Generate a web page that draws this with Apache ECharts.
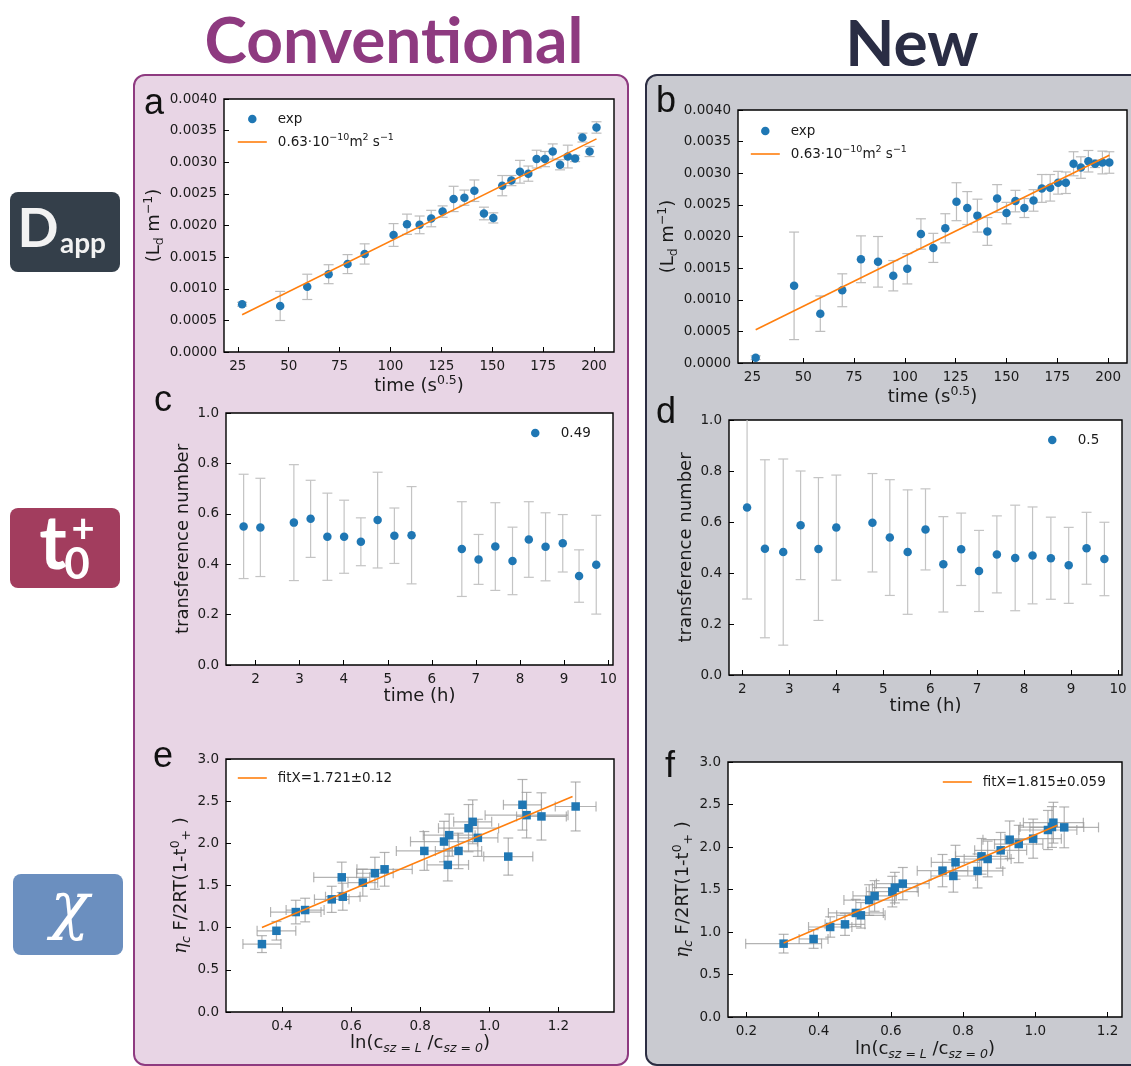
<!DOCTYPE html>
<html><head><meta charset="utf-8">
<script src="https://cdn.jsdelivr.net/npm/echarts@6/dist/echarts.min.js"></script>
<style>
html,body{margin:0;padding:0;background:#fff}
#wrap{position:relative;width:1131px;height:1066px;overflow:hidden}
.bg{position:absolute;box-sizing:border-box}
#c{position:absolute;left:0;top:0;width:1131px;height:1066px}
</style>
</head><body>
<div id="wrap">
<div class="bg" style="left:133px;top:74px;width:496px;height:992px;background:#e8d5e5;border:2px solid #8e3a80;border-radius:12px"></div>
<div class="bg" style="left:645px;top:74px;width:500px;height:992px;background:#c9cad0;border:2px solid #2b2d42;border-radius:12px"></div>
<div class="bg" style="left:10px;top:192px;width:110px;height:80px;background:#343f4a;border-radius:8px"></div>
<div class="bg" style="left:10px;top:508px;width:110px;height:80px;background:#a23d5e;border-radius:8px"></div>
<div class="bg" style="left:13px;top:874px;width:110px;height:81px;background:#6b8fbf;border-radius:8px"></div>
<div id="c"></div>
</div>
<script>
// ---------- data ----------
const aX = [27.1,45.8,59.1,69.6,78.9,87.3,101.5,108.1,114.3,120.0,125.6,131.0,136.3,141.2,145.9,150.5,154.9,159.4,163.6,167.7,171.8,175.9,179.7,183.3,187.1,190.7,194.3,197.8,201.2];
const aY = [0.000755,0.000728,0.00103,0.00123,0.00139,0.00155,0.00185,0.00202,0.00201,0.00211,0.00222,0.00242,0.00244,0.00255,0.00219,0.00212,0.00263,0.00271,0.00285,0.00282,0.00305,0.00305,0.00317,0.00296,0.00309,0.00306,0.00339,0.00317,0.00355];
const aErr = [0.00003,0.00023,0.0002,0.00015,0.00015,0.00016,0.00018,0.00016,0.00014,0.00013,0.00009,0.0002,0.00012,0.00017,0.0001,0.00008,0.00016,0.00008,0.00018,0.00012,0.00014,0.00012,0.00012,0.00008,0.00018,0.00005,0.00007,0.00008,0.00009];
const fitAX = [27.1,201.2];
const fitAY = [0.00059,0.00337];

const bX = [26.6,45.5,58.4,69.2,78.4,86.8,94.3,101.2,107.9,114.0,119.9,125.4,130.7,135.7,140.6,145.4,150.0,154.4,158.8,163.3,167.4,171.5,175.4,179.2,183.0,186.6,190.3,193.6,197.2,200.6];
const bY = [0.000084,0.00122,0.00078,0.00115,0.00164,0.0016,0.00138,0.00149,0.00204,0.00182,0.00213,0.00255,0.00245,0.00233,0.00208,0.0026,0.00237,0.00256,0.00245,0.00257,0.00276,0.00277,0.00285,0.00285,0.00315,0.00309,0.00319,0.00315,0.00317,0.00317];
const bErr = [0.00003,0.00085,0.00028,0.00026,0.00037,0.0004,0.00024,0.00024,0.00024,0.00023,0.00023,0.0003,0.00026,0.00026,0.00022,0.00022,0.00017,0.00017,0.00015,0.00017,0.00022,0.00021,0.00018,0.00017,0.00019,0.00017,0.00017,0.00006,0.00018,0.00017];
const fitBX = [26.6,200.6];
const fitBY = [0.000526,0.003284];

const cX = [1.73,2.11,2.87,3.25,3.63,4.01,4.39,4.77,5.15,5.54,6.68,7.06,7.44,7.83,8.20,8.58,8.97,9.34,9.73];
const cY = [0.55,0.546,0.565,0.58,0.509,0.509,0.489,0.575,0.513,0.515,0.46,0.419,0.47,0.413,0.498,0.469,0.483,0.353,0.398];
const cErr = [0.207,0.195,0.23,0.153,0.173,0.145,0.095,0.19,0.11,0.193,0.188,0.099,0.174,0.134,0.15,0.135,0.114,0.104,0.196];

const dX = [2.10,2.48,2.87,3.24,3.62,4.00,4.77,5.14,5.52,5.90,6.28,6.66,7.04,7.42,7.81,8.18,8.57,8.95,9.33,9.71];
const dY = [0.657,0.495,0.482,0.587,0.494,0.578,0.597,0.539,0.482,0.571,0.434,0.493,0.408,0.473,0.459,0.469,0.458,0.43,0.497,0.455];
const dErr = [0.359,0.349,0.365,0.213,0.28,0.206,0.193,0.227,0.244,0.159,0.187,0.142,0.159,0.151,0.207,0.19,0.161,0.149,0.141,0.144];

const eX = [0.342,0.384,0.44,0.467,0.544,0.573,0.576,0.634,0.669,0.697,0.812,0.869,0.884,0.88,0.911,0.94,0.952,0.967,1.055,1.096,1.108,1.151,1.25];
const eY = [0.805,0.963,1.185,1.209,1.336,1.597,1.367,1.534,1.645,1.692,1.91,2.021,2.097,1.744,1.91,2.18,2.255,2.065,1.843,2.457,2.334,2.319,2.437];
const eXErr = [0.055,0.056,0.073,0.055,0.05,0.081,0.05,0.043,0.053,0.08,0.081,0.097,0.075,0.06,0.067,0.087,0.055,0.058,0.071,0.055,0.12,0.072,0.059];
const eYErr = [0.1,0.11,0.14,0.14,0.155,0.18,0.16,0.16,0.19,0.2,0.23,0.24,0.25,0.19,0.21,0.28,0.26,0.22,0.22,0.3,0.27,0.28,0.29];
const fitEX = [0.342,1.241];
const fitEY = [1.003,2.556];

const fX = [0.303,0.386,0.432,0.473,0.503,0.517,0.54,0.555,0.604,0.611,0.633,0.743,0.773,0.779,0.84,0.851,0.868,0.904,0.929,0.954,0.994,1.035,1.046,1.05,1.08];
const fY = [0.863,0.918,1.059,1.09,1.224,1.196,1.376,1.424,1.475,1.522,1.569,1.722,1.659,1.82,1.718,1.89,1.859,1.961,2.086,2.035,2.098,2.2,2.235,2.286,2.231];
const fXErr = [0.105,0.04,0.06,0.055,0.076,0.067,0.07,0.06,0.072,0.062,0.073,0.07,0.062,0.067,0.07,0.072,0.065,0.072,0.074,0.067,0.078,0.08,0.088,0.083,0.095];
const fYErr = [0.11,0.11,0.12,0.13,0.16,0.15,0.18,0.18,0.18,0.18,0.19,0.19,0.19,0.2,0.2,0.21,0.21,0.21,0.22,0.22,0.23,0.23,0.24,0.24,0.24];
const fitFX = [0.303,1.061];
const fitFY = [0.871,2.255];

// tick values
const timeSqrtTicks = [25,50,75,100,125,150,175,200];
const dappTicks = [0,0.0005,0.001,0.0015,0.002,0.0025,0.003,0.0035,0.004];
const hourTicks = [2,3,4,5,6,7,8,9,10];
const tnTicks = [0,0.2,0.4,0.6,0.8,1.0];
const eXTicks = [0.4,0.6,0.8,1.0,1.2];
const fXTicks = [0.2,0.4,0.6,0.8,1.0,1.2];
const chiTicks = [0,0.5,1.0,1.5,2.0,2.5,3.0];

// legend labels
const legendText = {
  expA: 'exp', fitA: '{n|0.63·10}{sup|−10}{n|m}{sup|2}{n| s}{sup|−1}',
  expB: 'exp', fitB: '{n|0.63·10}{sup|−10}{n|m}{sup|2}{n| s}{sup|−1}',
  tC: '0.49', tD: '0.5',
  fitE: 'fitX=1.721±0.12', fitF: 'fitX=1.815±0.059'
};

// ---------- chart ----------
const FONT = "'DejaVu Sans', sans-serif";
const BLUE = '#1f77b4', ORANGE = '#ff7f0e';
const zip2 = (x, y) => x.map((v, i) => [v, y[i]]);
const zip3 = (x, y, e) => x.map((v, i) => [v, y[i], e[i]]);
const zip4 = (x, y, xe, ye) => x.map((v, i) => [v, y[i], xe[i], ye[i]]);

const richName = {
  n: {fontSize: 18, fontFamily: FONT, color: '#1a1a1a', lineHeight: 24},
  it: {fontSize: 18, fontFamily: "'DejaVu Serif', serif", fontStyle: 'italic', color: '#1a1a1a', lineHeight: 24},
  sup: {fontSize: 12.5, fontFamily: FONT, color: '#1a1a1a', verticalAlign: 'top', lineHeight: 13},
  sub: {fontSize: 12.5, fontFamily: FONT, color: '#1a1a1a', verticalAlign: 'bottom', lineHeight: 13},
  subit: {fontSize: 12.5, fontFamily: FONT, fontStyle: 'italic', color: '#1a1a1a', verticalAlign: 'bottom', lineHeight: 13}
};
const richLeg = {
  n: {fontSize: 13.5, fontFamily: FONT, color: '#1a1a1a', lineHeight: 18},
  sup: {fontSize: 9.5, fontFamily: FONT, color: '#1a1a1a', verticalAlign: 'top', lineHeight: 10}
};

function xAx(gi, min, max, ticks, fmt, name, gap) {
  return {
    type: 'value', gridIndex: gi, min: min, max: max,
    name: name, nameLocation: 'middle', nameGap: gap,
    nameTextStyle: {fontSize: 18, fontFamily: FONT, color: '#1a1a1a', rich: richName},
    splitLine: {show: false}, axisLine: {show: false},
    axisTick: {show: true, inside: true, length: 5, lineStyle: {color: '#000', width: 1}, customValues: ticks},
    axisLabel: {customValues: ticks, formatter: fmt, color: '#1a1a1a', fontSize: 13.5, fontFamily: FONT, margin: 7}
  };
}
function yAx(gi, min, max, ticks, fmt, name, gap) {
  return {
    type: 'value', gridIndex: gi, min: min, max: max,
    name: name, nameLocation: 'middle', nameGap: gap, nameRotate: 90,
    nameTextStyle: {fontSize: 18, fontFamily: FONT, color: '#1a1a1a', rich: richName},
    splitLine: {show: false}, axisLine: {show: false},
    axisTick: {show: true, inside: true, length: 5, lineStyle: {color: '#000', width: 1}, customValues: ticks},
    axisLabel: {customValues: ticks, formatter: fmt, color: '#1a1a1a', fontSize: 13.5, fontFamily: FONT, margin: 7}
  };
}
const f0 = v => String(Math.round(v));
const f1 = v => v.toFixed(1);
const f4 = v => v.toFixed(4);

function errRender(hasX, color, opacity) {
  return function (params, api) {
    const x = api.value(0), y = api.value(1);
    const ye = api.value(hasX ? 3 : 2);
    const st = {stroke: color, lineWidth: 1.2, opacity: opacity};
    const cap = 5;
    const ln = (x1, y1, x2, y2) => ({type: 'line', shape: {x1: x1, y1: y1, x2: x2, y2: y2}, style: st});
    const ch = [];
    const p = api.coord([x, y - ye]), q = api.coord([x, y + ye]);
    ch.push(ln(p[0], p[1], q[0], q[1]), ln(p[0] - cap, p[1], p[0] + cap, p[1]), ln(q[0] - cap, q[1], q[0] + cap, q[1]));
    if (hasX) {
      const xe = api.value(2);
      const l = api.coord([x - xe, y]), r = api.coord([x + xe, y]);
      ch.push(ln(l[0], l[1], r[0], r[1]), ln(l[0], l[1] - cap, l[0], l[1] + cap), ln(r[0], r[1] - cap, r[0], r[1] + cap));
    }
    return {type: 'group', children: ch};
  };
}
function errSeries(gi, data, hasX, color, opacity) {
  return {type: 'custom', xAxisIndex: gi, yAxisIndex: gi, data: data, clip: true, z: 2, silent: true,
    encode: {x: 0, y: 1}, renderItem: errRender(hasX, color, opacity)};
}
function ptSeries(gi, name, data, symbol) {
  return {type: 'scatter', name: name, xAxisIndex: gi, yAxisIndex: gi, data: data, symbol: symbol,
    symbolSize: 8.5, itemStyle: {color: BLUE, opacity: 1}, z: 3, silent: true};
}
function fitSeries(gi, name, data) {
  return {type: 'line', name: name, xAxisIndex: gi, yAxisIndex: gi, data: data, symbol: 'none', showSymbol: false,
    lineStyle: {color: ORANGE, width: 1.6}, itemStyle: {color: ORANGE}, z: 4, silent: true};
}
function leg(names, left, top) {
  return {
    data: names.map(n => n.startsWith('fit')
      ? {name: n, itemStyle: {opacity: 0, borderWidth: 0}, lineStyle: {color: ORANGE, width: 1.6}}
      : {name: n, icon: 'circle'}),
    left: left, top: top, orient: 'vertical', itemWidth: 29, itemHeight: 8.5, itemGap: 7,
    selectedMode: false, padding: 0,
    formatter: n => legendText[n],
    textStyle: {fontSize: 13.5, fontFamily: FONT, color: '#1a1a1a', padding: [0, 0, 0, 6], rich: richLeg}
  };
}

const gridBase = {show: true, backgroundColor: '#fff', borderColor: '#000', borderWidth: 1.4, containLabel: false};
const nameTime = '{n|time (s}{sup|0.5}{n|)}';
const nameLd = '{n|(L}{sub|d}{n| m}{sup|−1}{n|)}';
const nameChiY = '{it|η}{subit|c}{n| F/2RT(1-t}{sup|0}{sub|+}{n| )}';
const nameChiX = '{n|ln(c}{subit|sz = L}{n| /c}{subit|sz = 0}{n|)}';

const letters = [['a',154,104],['b',666,102],['c',163,401],['d',666,413],['e',163,757],['f',670,767]];
const BOLD = "Lato, 'Open Sans', sans-serif";

const option = {
  animation: false,
  grid: [
    Object.assign({left: 224, top: 99, width: 390, height: 253}, gridBase),
    Object.assign({left: 738, top: 110, width: 389, height: 253}, gridBase),
    Object.assign({left: 226, top: 413, width: 387, height: 252}, gridBase),
    Object.assign({left: 729, top: 420, width: 393, height: 255}, gridBase),
    Object.assign({left: 226, top: 759, width: 388, height: 253}, gridBase),
    Object.assign({left: 728, top: 762, width: 394, height: 255}, gridBase)
  ],
  xAxis: [
    xAx(0, 18.2, 209.8, timeSqrtTicks, f0, nameTime, 20),
    xAx(1, 17.9, 209.3, timeSqrtTicks, f0, nameTime, 20),
    xAx(2, 1.33, 10.11, hourTicks, f0, 'time (h)', 21),
    xAx(3, 1.715, 10.085, hourTicks, f0, 'time (h)', 21),
    xAx(4, 0.238, 1.361, eXTicks, f1, nameChiX, 19),
    xAx(5, 0.149, 1.240, fXTicks, f1, nameChiX, 20)
  ],
  yAxis: [
    yAx(0, 0, 0.004, dappTicks, f4, nameLd, 57),
    yAx(1, 0, 0.004, dappTicks, f4, nameLd, 58),
    yAx(2, 0, 1, tnTicks, f1, 'transference number', 34),
    yAx(3, 0, 1, tnTicks, f1, 'transference number', 34),
    yAx(4, 0, 3, chiTicks, f1, nameChiY, 27),
    yAx(5, 0, 3, chiTicks, f1, nameChiY, 28)
  ],
  legend: [
    leg(['expA', 'fitA'], 237, 112),
    leg(['expB', 'fitB'], 750, 124),
    leg(['tC'], 531, 426),
    leg(['tD'], 1048, 433),
    leg(['fitE'], 237, 771),
    leg(['fitF'], 942, 775)
  ],
  series: [
    errSeries(0, zip3(aX, aY, aErr), false, '#bdbdbd', 1),
    ptSeries(0, 'expA', zip2(aX, aY), 'circle'),
    fitSeries(0, 'fitA', zip2(fitAX, fitAY)),
    errSeries(1, zip3(bX, bY, bErr), false, '#bdbdbd', 1),
    ptSeries(1, 'expB', zip2(bX, bY), 'circle'),
    fitSeries(1, 'fitB', zip2(fitBX, fitBY)),
    errSeries(2, zip3(cX, cY, cErr), false, '#c4c4c4', 1),
    ptSeries(2, 'tC', zip2(cX, cY), 'circle'),
    errSeries(3, zip3(dX, dY, dErr), false, '#c4c4c4', 1),
    ptSeries(3, 'tD', zip2(dX, dY), 'circle'),
    errSeries(4, zip4(eX, eY, eXErr, eYErr), true, '#9a9a9a', 0.75),
    ptSeries(4, 'ptE', zip2(eX, eY), 'rect'),
    fitSeries(4, 'fitE', zip2(fitEX, fitEY)),
    errSeries(5, zip4(fX, fY, fXErr, fYErr), true, '#9a9a9a', 0.75),
    ptSeries(5, 'ptF', zip2(fX, fY), 'rect'),
    fitSeries(5, 'fitF', zip2(fitFX, fitFY))
  ],
  graphic: [
    {type: 'text', x: 394, y: 42, style: {text: 'Conventional', fontSize: 64, fontWeight: 'bold', fontFamily: BOLD, fill: '#8e3a80', align: 'center', verticalAlign: 'middle'}},
    {type: 'text', x: 912, y: 45, style: {text: 'New', fontSize: 64, fontWeight: 'bold', fontFamily: BOLD, fill: '#2a2d44', align: 'center', verticalAlign: 'middle'}},
    {type: 'text', x: 38, y: 230, style: {text: 'D', fontSize: 54, fontWeight: 'bold', fontFamily: BOLD, fill: '#f2f2f2', align: 'center', verticalAlign: 'middle'}},
    {type: 'text', x: 83, y: 244, style: {text: 'app', fontSize: 28, fontWeight: 'bold', fontFamily: BOLD, fill: '#f2f2f2', align: 'center', verticalAlign: 'middle'}},
    {type: 'text', x: 53, y: 545, style: {text: 't', fontSize: 74, fontWeight: 'bold', fontFamily: BOLD, fill: '#ffffff', align: 'center', verticalAlign: 'middle'}},
    {type: 'text', x: 83, y: 529, style: {text: '+', fontSize: 40, fontWeight: 'bold', fontFamily: BOLD, fill: '#ffffff', align: 'center', verticalAlign: 'middle'}},
    {type: 'text', x: 77, y: 565, style: {text: '0', fontSize: 44, fontWeight: 'bold', fontFamily: BOLD, fill: '#ffffff', align: 'center', verticalAlign: 'middle'}},
    {type: 'text', x: 70, y: 910, style: {text: 'χ', fontSize: 64, fontStyle: 'italic', fontFamily: "'DejaVu Serif', serif", fill: '#ffffff', align: 'center', verticalAlign: 'middle'}}
  ].concat(letters.map(l => ({type: 'text', x: l[1], y: l[2], style: {text: l[0], fontSize: 36, fontFamily: "'Liberation Sans', Arial, sans-serif", fill: '#111', align: 'center', verticalAlign: 'middle'}})))
};

const chart = echarts.init(document.getElementById('c'), null, {renderer: 'canvas'});
chart.setOption(option);
</script>
</body></html>
